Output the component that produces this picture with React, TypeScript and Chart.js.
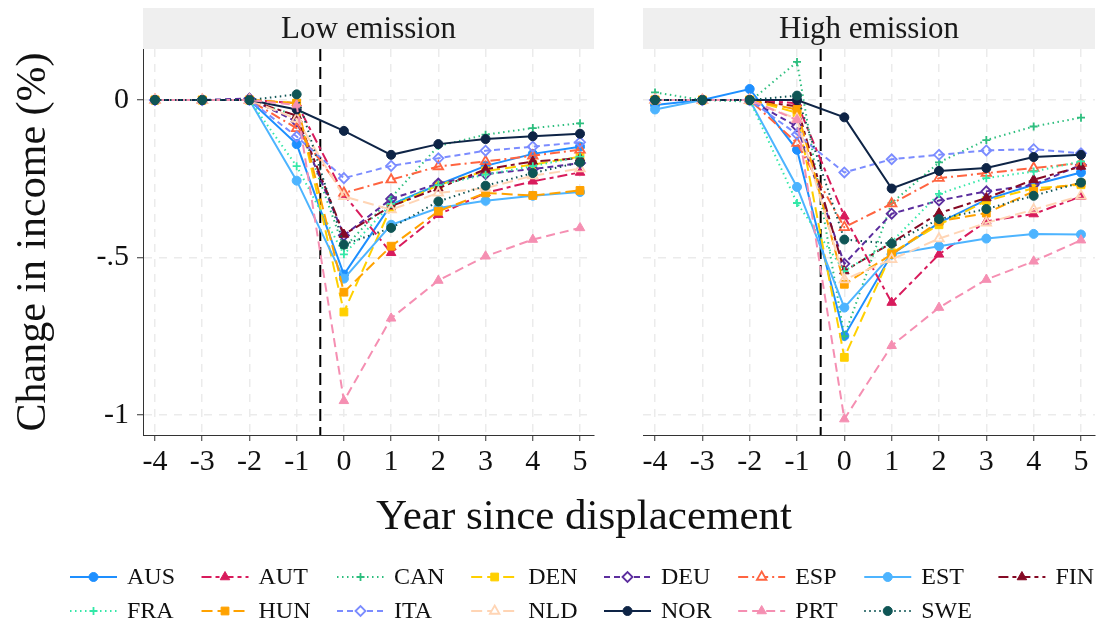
import React, { useEffect, useRef } from 'react';
import { Chart, registerables } from 'chart.js';
import { drawPoint } from 'chart.js/helpers';

Chart.register(...registerables);

// ---------- data ----------
const years = [-4, -3, -2, -1, 0, 1, 2, 3, 4, 5];
const countries = ['AUS', 'AUT', 'CAN', 'DEN', 'DEU', 'ESP', 'EST', 'FIN', 'FRA', 'HUN', 'ITA', 'NLD', 'NOR', 'PRT', 'SWE'];
const panelTitles = ['Low emission', 'High emission'];
const yTickValues = [0, -0.5, -1];
const yTickLabels = ['0', '-.5', '-1'];
const eventLine = -0.5;
const xTitle = 'Year since displacement';
const yTitle = 'Change in income (%)';

// Low emission
const AUS_low = [0, 0, 0, -0.14, -0.554, -0.332, -0.269, -0.209, -0.171, -0.148];
const AUT_low = [0, 0, 0, -0.01, -0.3, -0.485, -0.364, -0.295, -0.258, -0.23];
const CAN_low = [0, 0, 0, -0.05, -0.47, -0.31, -0.146, -0.11, -0.089, -0.074];
const DEN_low = [0, 0, 0, -0.01, -0.673, -0.34, -0.27, -0.225, -0.205, -0.18];
const DEU_low = [0, 0, 0.005, -0.069, -0.43, -0.314, -0.265, -0.235, -0.219, -0.2];
const ESP_low = [0, 0, 0, -0.09, -0.295, -0.253, -0.211, -0.195, -0.177, -0.158];
const EST_low = [0, 0, 0, -0.256, -0.567, -0.396, -0.343, -0.32, -0.304, -0.292];
const FIN_low = [0, 0, 0, -0.05, -0.427, -0.337, -0.28, -0.22, -0.195, -0.185];
const FRA_low = [0, 0, 0, -0.21, -0.49, -0.33, -0.27, -0.237, -0.21, -0.18];
const HUN_low = [0, 0, 0, -0.01, -0.61, -0.464, -0.353, -0.295, -0.303, -0.287];
const ITA_low = [0, 0, 0, -0.116, -0.248, -0.209, -0.185, -0.161, -0.148, -0.134];
const NLD_low = [0, 0, 0, -0.06, -0.306, -0.348, -0.295, -0.28, -0.24, -0.218];
const NOR_low = [0, 0, 0, -0.03, -0.098, -0.174, -0.14, -0.124, -0.115, -0.107];
const PRT_low = [0, 0, 0, -0.016, -0.955, -0.693, -0.573, -0.496, -0.443, -0.406];
const SWE_low = [0, 0, 0, 0.018, -0.459, -0.406, -0.322, -0.272, -0.232, -0.198];

// High emission
const AUS_high = [-0.016, 0, 0.035, -0.158, -0.749, -0.49, -0.39, -0.316, -0.269, -0.23];
const AUT_high = [0, 0, 0, -0.01, -0.369, -0.643, -0.49, -0.385, -0.362, -0.306];
const CAN_high = [0.024, 0, -0.005, 0.121, -0.75, -0.327, -0.198, -0.127, -0.084, -0.056];
const DEN_high = [0, 0, 0, -0.04, -0.817, -0.485, -0.396, -0.32, -0.28, -0.269];
const DEU_high = [0, 0, 0, -0.084, -0.52, -0.361, -0.319, -0.29, -0.269, -0.206];
const ESP_high = [0, 0, 0, -0.137, -0.404, -0.329, -0.248, -0.232, -0.216, -0.2];
const EST_high = [-0.03, 0, 0, -0.276, -0.659, -0.49, -0.464, -0.44, -0.425, -0.427];
const FIN_high = [0, 0, 0, -0.02, -0.543, -0.453, -0.359, -0.311, -0.253, -0.211];
const FRA_high = [0, 0, 0, -0.327, -0.543, -0.45, -0.298, -0.248, -0.227, -0.195];
const HUN_high = [0, 0, 0, -0.03, -0.585, -0.49, -0.385, -0.359, -0.29, -0.264];
const ITA_high = [0, 0, 0, -0.109, -0.23, -0.188, -0.174, -0.16, -0.156, -0.169];
const NLD_high = [0, 0, 0, -0.06, -0.57, -0.506, -0.44, -0.39, -0.348, -0.304];
const NOR_high = [0, 0, 0, 0, -0.055, -0.281, -0.225, -0.216, -0.181, -0.174];
const PRT_high = [0, 0, 0, -0.063, -1.013, -0.78, -0.659, -0.57, -0.512, -0.445];
const SWE_high = [0, 0, 0, 0.014, -0.443, -0.456, -0.378, -0.346, -0.304, -0.262];

const lowSeries: Record<string, number[]> = {
  AUS: AUS_low, AUT: AUT_low, CAN: CAN_low, DEN: DEN_low, DEU: DEU_low, ESP: ESP_low, EST: EST_low, FIN: FIN_low,
  FRA: FRA_low, HUN: HUN_low, ITA: ITA_low, NLD: NLD_low, NOR: NOR_low, PRT: PRT_low, SWE: SWE_low,
};
const highSeries: Record<string, number[]> = {
  AUS: AUS_high, AUT: AUT_high, CAN: CAN_high, DEN: DEN_high, DEU: DEU_high, ESP: ESP_high, EST: EST_high, FIN: FIN_high,
  FRA: FRA_high, HUN: HUN_high, ITA: ITA_high, NLD: NLD_high, NOR: NOR_high, PRT: PRT_high, SWE: SWE_high,
};

// ---------- styles ----------
const FONT = "'Liberation Serif', 'DejaVu Serif', serif";
const SOLID: number[] = [];
const DASHED = [6, 4];
const DOTTED = [1.5, 3.5];
const LONGDASH = [11, 5];
const TWODASH = [10, 4, 4, 4];
const DOTDASH = [10, 4, 2, 4];

type St = { color: string; dash: number[]; point: string; open: boolean; r: number };
const styles: Record<string, St> = {
  AUS: { color: '#1E8FFF', dash: SOLID, point: 'circle', open: false, r: 4.5 },
  AUT: { color: '#D81B5C', dash: TWODASH, point: 'triangle', open: false, r: 5.5 },
  CAN: { color: '#2DBE7E', dash: DOTTED, point: 'cross', open: false, r: 4 },
  DEN: { color: '#FFD000', dash: LONGDASH, point: 'rect', open: false, r: 5.5 },
  DEU: { color: '#5C2E9E', dash: DASHED, point: 'rectRot', open: true, r: 5 },
  ESP: { color: '#FF6440', dash: DOTDASH, point: 'triangle', open: true, r: 5.5 },
  EST: { color: '#4DB4FF', dash: SOLID, point: 'circle', open: false, r: 4.5 },
  FIN: { color: '#850A25', dash: TWODASH, point: 'triangle', open: false, r: 5.5 },
  FRA: { color: '#33E8A8', dash: DOTTED, point: 'cross', open: false, r: 4 },
  HUN: { color: '#FFA200', dash: LONGDASH, point: 'rect', open: false, r: 5.5 },
  ITA: { color: '#7B8CFF', dash: DASHED, point: 'rectRot', open: true, r: 5 },
  NLD: { color: '#FFD5B5', dash: LONGDASH, point: 'triangle', open: true, r: 5.5 },
  NOR: { color: '#0E2446', dash: SOLID, point: 'circle', open: false, r: 4.5 },
  PRT: { color: '#F58FB2', dash: [9, 5], point: 'triangle', open: false, r: 5.5 },
  SWE: { color: '#0F5555', dash: DOTTED, point: 'circle', open: false, r: 4.5 },
};

const X_MIN = -4.254;
const X_MAX = 5.296;
const Y_MIN = -1.0635;
const Y_MAX = 0.162;

function buildDatasets(series: Record<string, number[]>) {
  return countries.map((c, i) => {
    const st = styles[c];
    return {
      label: c,
      data: years.map((yr, j) => ({ x: yr, y: series[c][j] })),
      borderColor: st.color,
      backgroundColor: st.open ? 'rgba(255,255,255,0)' : st.color,
      borderWidth: 2,
      borderDash: st.dash,
      pointStyle: st.point,
      pointRadius: st.r,
      pointBorderWidth: st.open || st.point === 'cross' ? 1.8 : 1,
      pointBorderColor: st.color,
      pointBackgroundColor: st.open ? 'rgba(255,255,255,0)' : st.color,
      tension: 0,
      fill: false,
      order: countries.length - i,
    };
  });
}

const stripPlugin = (title: string) => ({
  id: 'strip',
  beforeDraw(chart: any) {
    const { ctx, chartArea } = chart;
    ctx.save();
    ctx.fillStyle = '#efefef';
    ctx.fillRect(chartArea.left, 8, chartArea.right - chartArea.left, chartArea.top - 8);
    ctx.fillStyle = '#1a1a1a';
    ctx.font = `31px ${FONT}`;
    ctx.textAlign = 'center';
    ctx.textBaseline = 'middle';
    ctx.fillText(title, (chartArea.left + chartArea.right) / 2, (8 + chartArea.top) / 2 + 1);
    ctx.restore();
  },
});

const vlinePlugin = {
  id: 'vline',
  beforeDatasetsDraw(chart: any) {
    const { ctx, chartArea, scales } = chart;
    const px = scales.x.getPixelForValue(eventLine);
    ctx.save();
    ctx.strokeStyle = '#000';
    ctx.lineWidth = 2;
    ctx.setLineDash([12, 6]);
    ctx.beginPath();
    ctx.moveTo(px, chartArea.top);
    ctx.lineTo(px, chartArea.bottom);
    ctx.stroke();
    ctx.restore();
  },
};

const legendPlugin = {
  id: 'customLegend',
  afterDraw(chart: any) {
    const { ctx } = chart;
    ctx.save();
    // x title
    ctx.fillStyle = '#111';
    ctx.font = `43px ${FONT}`;
    ctx.textAlign = 'center';
    ctx.textBaseline = 'middle';
    ctx.fillText(xTitle, 584, 518);

    // legend grid: 8 columns, 2 rows
    ctx.font = `24px ${FONT}`;
    const cols = 8;
    const rowsY = [577, 611];
    let x = 70;
    for (let c = 0; c < cols; c++) {
      const names = [countries[c], countries[c + cols]].filter(Boolean) as string[];
      const w = Math.max(...names.map((n) => ctx.measureText(n).width));
      names.forEach((n, r) => {
        const st = styles[n];
        const y = rowsY[r];
        ctx.strokeStyle = st.color;
        ctx.lineWidth = 2;
        ctx.setLineDash(st.dash);
        ctx.beginPath();
        ctx.moveTo(x, y);
        ctx.lineTo(x + 47, y);
        ctx.stroke();
        ctx.setLineDash([]);
        ctx.strokeStyle = st.color;
        ctx.fillStyle = st.open ? '#ffffff' : st.color;
        ctx.lineWidth = st.open || st.point === 'cross' ? 1.8 : 1;
        drawPoint(ctx, { pointStyle: st.point, radius: st.r, borderWidth: ctx.lineWidth, rotation: 0 } as any, x + 23.5, y);
        ctx.fillStyle = '#111';
        ctx.textAlign = 'left';
        ctx.textBaseline = 'middle';
        ctx.fillText(n, x + 57, y + 1);
      });
      x += 57 + w + 26.5;
    }
    ctx.restore();
  },
};

function makeConfig(series: Record<string, number[]>, isLeft: boolean, title: string): any {
  const gridCommon = {
    color: '#ebebeb',
    lineWidth: 1.5,
    tickColor: '#333',
    tickLength: 6,
    tickWidth: 1,
    tickBorderDash: [],
  };
  return {
    type: 'line',
    data: { datasets: buildDatasets(series) },
    options: {
      animation: false,
      responsive: false,
      maintainAspectRatio: false,
      devicePixelRatio: 1,
      events: [],
      layout: {
        padding: isLeft ? { top: 49, right: 511, bottom: 145, left: 0 } : { top: 49, right: 10, bottom: 0, left: 0 },
      },
      plugins: { legend: { display: false }, tooltip: { enabled: false }, title: { display: false } },
      scales: {
        x: {
          type: 'linear',
          min: X_MIN,
          max: X_MAX,
          afterBuildTicks: (s: any) => {
            s.ticks = years.map((v) => ({ value: v }));
          },
          afterFit: (s: any) => {
            s.height = 45;
          },
          ticks: {
            font: { family: FONT, size: 30 },
            color: '#111',
            padding: 3,
            maxRotation: 0,
            autoSkip: false,
            callback: (v: number) => String(v),
          },
          grid: { ...gridCommon },
          border: { display: true, color: '#333', width: 1, dash: [8, 7] },
        },
        y: {
          type: 'linear',
          min: Y_MIN,
          max: Y_MAX,
          afterBuildTicks: (s: any) => {
            s.ticks = yTickValues.map((v) => ({ value: v }));
          },
          afterFit: (s: any) => {
            s.width = isLeft ? 143 : 43;
          },
          ticks: {
            display: isLeft,
            font: { family: FONT, size: 30 },
            color: '#111',
            padding: 8,
            callback: (v: number) => {
              const i = yTickValues.indexOf(v);
              return i >= 0 ? yTickLabels[i] : '';
            },
          },
          grid: { ...gridCommon, drawTicks: isLeft },
          border: { display: isLeft, color: '#333', width: 1, dash: [8, 7] },
          title: isLeft
            ? { display: true, text: yTitle, font: { family: FONT, size: 42 }, color: '#111', padding: { top: 9, bottom: 0 } }
            : { display: false },
        },
      },
    },
    plugins: isLeft ? [stripPlugin(title), vlinePlugin, legendPlugin] : [stripPlugin(title), vlinePlugin],
  };
}

export default function App() {
  const leftRef = useRef<HTMLCanvasElement>(null);
  const rightRef = useRef<HTMLCanvasElement>(null);

  useEffect(() => {
    const left = new Chart(leftRef.current as HTMLCanvasElement, makeConfig(lowSeries, true, panelTitles[0]));
    const right = new Chart(rightRef.current as HTMLCanvasElement, makeConfig(highSeries, false, panelTitles[1]));
    return () => {
      left.destroy();
      right.destroy();
    };
  }, []);

  return (
    <div style={{ position: 'fixed', left: 0, top: 0, width: 1105, height: 625, background: '#fff', overflow: 'hidden' }}>
      <canvas ref={leftRef} width={1105} height={625} style={{ position: 'absolute', left: 0, top: 0, width: 1105, height: 625 }} />
      <canvas ref={rightRef} width={505} height={480} style={{ position: 'absolute', left: 600, top: 0, width: 505, height: 480 }} />
    </div>
  );
}
